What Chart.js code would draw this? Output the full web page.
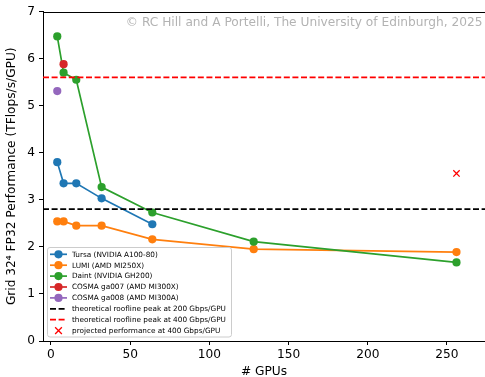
<!DOCTYPE html>
<html>
<head>
<meta charset="utf-8">
<script src="https://cdn.jsdelivr.net/npm/chart.js@4/dist/chart.umd.min.js"></script>
<style>
  html, body { margin: 0; padding: 0; background: #ffffff; }
  canvas { display: block; }
</style>
</head>
<body>
<canvas id="perf" width="485" height="377"></canvas>
<script>
// GPU counts used in the scaling runs
const gpuCounts = [4, 8, 16, 32, 64, 128, 256];

// Measured Grid 32^4 FP32 performance per GPU (TFlops/s/GPU)
const tursaPerf = [3.80, 3.35, 3.35, 3.03, 2.48];
const lumiPerf = [2.54, 2.54, 2.45, 2.45, 2.16, 1.95, 1.89];
const daintPerf = [6.47, 5.70, 5.55, 3.27, 2.73, 2.11, 1.67];
const cosma007Gpus = [8];
const cosma007Perf = [5.88];
const cosma008Gpus = [4];
const cosma008Perf = [5.31];

// Theoretical roofline peaks and projection
const roofline200 = 2.8;
const roofline400 = 5.6;
const projectedGpus = [256];
const projectedPerf = [3.56];

// Axis ticks and limits
const xTicks = [0, 50, 100, 150, 200, 250];
const yTicks = [0, 1, 2, 3, 4, 5, 6, 7];
const X_MIN = -5, X_MAX = 274;
const Y_MIN = 0, Y_MAX = 7;

const seriesLabels = [
  'Tursa (NVIDIA A100-80)',
  'LUMI (AMD MI250X)',
  'Daint (NVIDIA GH200)',
  'COSMA ga007 (AMD MI300X)',
  'COSMA ga008 (AMD MI300A)',
  'theoretical roofline peak at 200 Gbps/GPU',
  'theoretical roofline peak at 400 Gbps/GPU',
  'projected performance at 400 Gbps/GPU'
];
const creditText = '\u00A9 RC Hill and A Portelli, The University of Edinburgh, 2025';

const FONT = '"DejaVu Sans", "Liberation Sans", sans-serif';
const FS = 12.2;      // axis text size
const LEG_FS = 7.3;   // legend text size
const pair = (xs, ys) => ys.map((y, i) => ({ x: xs[i], y }));

function series(idx, xs, ys, color) {
  return {
    label: seriesLabels[idx], data: pair(xs, ys), showLine: true,
    borderColor: color, backgroundColor: color, borderWidth: 1.7,
    pointRadius: 4.1, pointBorderWidth: 0, pointBackgroundColor: color,
    pointStyle: 'circle', order: -idx
  };
}
function hline(idx, value, color) {
  return {
    label: seriesLabels[idx], data: [{ x: X_MIN, y: value }, { x: X_MAX, y: value }],
    showLine: true, borderColor: color, borderWidth: 1.7, borderDash: [6, 2.6],
    pointRadius: 0, order: -idx
  };
}

const datasets = [
  series(0, gpuCounts, tursaPerf, '#1f77b4'),
  series(1, gpuCounts, lumiPerf, '#ff7f0e'),
  series(2, gpuCounts, daintPerf, '#2ca02c'),
  series(3, cosma007Gpus, cosma007Perf, '#d62728'),
  series(4, cosma008Gpus, cosma008Perf, '#9467bd'),
  hline(5, roofline200, '#000000'),
  hline(6, roofline400, '#ff0000'),
  {
    label: seriesLabels[7], data: pair(projectedGpus, projectedPerf), showLine: false,
    pointStyle: 'crossRot', pointRadius: 4.5, pointBorderWidth: 1.3,
    borderColor: '#ff0000', backgroundColor: '#ff0000', order: -7
  }
];

// Top spine, credit line and in-axes legend
const decorations = {
  id: 'decorations',
  afterDraw(chart) {
    const ctx = chart.ctx;
    const a = chart.chartArea;
    ctx.save();
    ctx.strokeStyle = '#000';
    ctx.lineWidth = 1;
    ctx.beginPath();
    ctx.moveTo(a.left, Math.round(a.top) + 0.5);
    ctx.lineTo(a.right, Math.round(a.top) + 0.5);
    ctx.stroke();

    ctx.font = FS + 'px ' + FONT;
    ctx.fillStyle = '#b3b3b3';
    ctx.textAlign = 'right';
    ctx.textBaseline = 'alphabetic';
    ctx.fillText(creditText, 482.5, 25.5);

    // legend box
    const bx = 47.5, by = 247.5, bw = 184, bh = 89.5, r = 2.5;
    ctx.beginPath();
    ctx.moveTo(bx + r, by);
    ctx.arcTo(bx + bw, by, bx + bw, by + bh, r);
    ctx.arcTo(bx + bw, by + bh, bx, by + bh, r);
    ctx.arcTo(bx, by + bh, bx, by, r);
    ctx.arcTo(bx, by, bx + bw, by, r);
    ctx.closePath();
    ctx.fillStyle = 'rgba(255,255,255,0.8)';
    ctx.fill();
    ctx.strokeStyle = '#cccccc';
    ctx.lineWidth = 1;
    ctx.stroke();

    const hx0 = 50, hx1 = 67, hxc = 58.5, tx = 72;
    ctx.font = LEG_FS + 'px ' + FONT;
    ctx.textAlign = 'left';
    ctx.textBaseline = 'middle';
    chart.data.datasets.forEach((d, i) => {
      const y = 254.3 + i * 10.9;
      if (d.showLine) {
        ctx.save();
        ctx.strokeStyle = d.borderColor;
        ctx.lineWidth = d.borderWidth;
        ctx.setLineDash(d.borderDash || []);
        ctx.beginPath();
        ctx.moveTo(hx0, y);
        ctx.lineTo(hx1, y);
        ctx.stroke();
        ctx.restore();
      }
      if (d.pointRadius > 0) {
        if (d.pointStyle === 'crossRot') {
          const s = d.pointRadius * 0.75;
          ctx.save();
          ctx.strokeStyle = d.borderColor;
          ctx.lineWidth = d.pointBorderWidth;
          ctx.beginPath();
          ctx.moveTo(hxc - s, y - s); ctx.lineTo(hxc + s, y + s);
          ctx.moveTo(hxc - s, y + s); ctx.lineTo(hxc + s, y - s);
          ctx.stroke();
          ctx.restore();
        } else {
          ctx.fillStyle = d.pointBackgroundColor;
          ctx.beginPath();
          ctx.arc(hxc, y, d.pointRadius, 0, Math.PI * 2);
          ctx.fill();
        }
      }
      ctx.fillStyle = '#000';
      ctx.fillText(d.label, tx, y + 0.5);
    });
    ctx.restore();
  }
};

new Chart(document.getElementById('perf'), {
  type: 'scatter',
  data: { datasets },
  plugins: [decorations],
  options: {
    responsive: false,
    animation: false,
    devicePixelRatio: 1,
    layout: { autoPadding: false, padding: { top: 11.5, right: 0, left: 0, bottom: 0 } },
    plugins: { legend: { display: false }, tooltip: { enabled: false } },
    scales: {
      x: {
        type: 'linear', min: X_MIN, max: X_MAX,
        afterBuildTicks: s => { s.ticks = xTicks.map(v => ({ value: v })); },
        afterFit: s => { s.height = 36; s.paddingLeft = 0; s.paddingRight = 0; },
        grid: { drawOnChartArea: false, drawTicks: true, tickLength: 4, color: '#000' },
        border: { display: true, color: '#000', width: 1 },
        ticks: { color: '#000', padding: 3, font: { family: FONT, size: FS }, maxRotation: 0 },
        title: { display: true, text: '# GPUs', color: '#000', font: { family: FONT, size: FS }, padding: { top: 0, bottom: -2 } }
      },
      y: {
        type: 'linear', min: Y_MIN, max: Y_MAX,
        afterBuildTicks: s => { s.ticks = yTicks.map(v => ({ value: v })); },
        afterFit: s => { s.width = 43; s.paddingTop = 0; s.paddingBottom = 0; },
        grid: { drawOnChartArea: false, drawTicks: true, tickLength: 4, color: '#000' },
        border: { display: true, color: '#000', width: 1 },
        ticks: { color: '#000', padding: 4, font: { family: FONT, size: FS } },
        title: { display: true, text: 'Grid 32\u2074 FP32 Performance (TFlops/s/GPU)', color: '#000', font: { family: FONT, size: FS }, padding: { top: 5, bottom: 0 } }
      }
    }
  }
});
</script>
</body>
</html>
